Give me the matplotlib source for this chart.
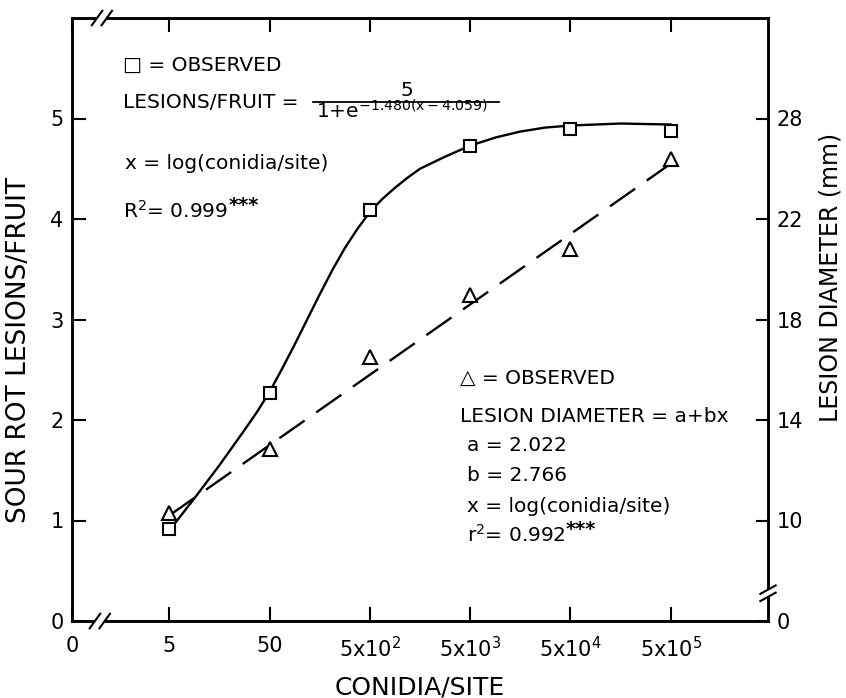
import matplotlib.pyplot as plt

# x positions are decade steps: 0 -> 5 conidia/site, 1 -> 50, ... 5 -> 5x10^5
dose_labels = ["0", "5", "50", "5x10$^2$", "5x10$^3$", "5x10$^4$", "5x10$^5$"]
dose = [0, 1, 2, 3, 4, 5]
x_left = -0.97
x_right = 5.97

# squares: sour rot lesions per fruit
lesions_obs = [0.92, 2.27, 4.09, 4.73, 4.90, 4.88]
# fitted curve
curve_x = [0, 0.25, 0.5, 0.75, 0.875, 1, 1.125, 1.25, 1.375, 1.5, 1.625, 1.75, 1.875,
           2, 2.125, 2.25, 2.375, 2.5, 2.75, 3, 3.25, 3.5, 3.75, 4, 4.5, 5]
curve_y = [0.90, 1.22, 1.55, 1.90, 2.08, 2.28, 2.51, 2.75, 3.00, 3.25, 3.49, 3.71, 3.90,
           4.07, 4.20, 4.31, 4.41, 4.50, 4.62, 4.73, 4.81, 4.87, 4.91, 4.93, 4.95, 4.94]

# triangles: lesion diameter (mm)
diam_obs = [10.3, 12.85, 16.5, 18.97, 20.8, 24.4]
line_x = [0, 5]
line_y = [10.2, 24.2]

left_ticks = [0, 1, 2, 3, 4, 5]
right_ticks = [6, 10, 14, 18, 22, 26]
right_labels = ["0", "10", "14", "18", "22", "28"]

fig = plt.figure(figsize=(8.46, 6.98), dpi=100)
W, H = 846, 698
L, R, T, B = 72, 768, 18, 621
ax = fig.add_axes([L / W, (H - B) / H, (R - L) / W, (B - T) / H])
ax2 = ax.twinx()

ax.plot(curve_x, curve_y, color="black", lw=1.7, zorder=2)
ax.plot(dose, lesions_obs, "s", ms=8.8, mfc="white", mec="black", mew=1.5, zorder=3)

ax2.plot(line_x, line_y, color="black", lw=1.7, linestyle=(0, (13, 6)), zorder=2)
ax2.plot(dose, diam_obs, "^", ms=9.5, mfc="white", mec="black", mew=1.5, zorder=3)

ax.set_xlim(x_left, x_right)
ax.set_ylim(0, 6)
ax2.set_ylim(6, 30)

ax.set_xticks([x_left] + dose)
ax.set_xticklabels(dose_labels, fontsize=15)
ax.set_yticks(left_ticks)
ax.set_yticklabels([str(v) for v in left_ticks], fontsize=15)
ax2.set_yticks(right_ticks)
ax2.set_yticklabels(right_labels, fontsize=15)

ax.tick_params(axis="x", direction="in", length=10, width=1.5, top=True, pad=11)
ax.tick_params(axis="y", direction="in", length=10, width=1.5, pad=6)
ax2.tick_params(axis="y", direction="in", length=9, width=1.5, pad=6)
for a in (ax, ax2):
    for s in a.spines.values():
        s.set_linewidth(1.8)

ax.set_ylabel("SOUR ROT LESIONS/FRUIT", fontsize=19)
ax.yaxis.set_label_coords(-0.057, 0.45)
ax2.set_ylabel("LESION DIAMETER (mm)", fontsize=17)
ax2.yaxis.set_label_coords(1.073, 0.57)
ax.set_xlabel("CONIDIA/SITE", fontsize=18)
ax.xaxis.set_label_coords(0.5, -0.09)

# broken axis marks
def hbreak(a, xc, y):
    dx, dy, sep = 0.0075, 0.012, 0.007
    a.plot([xc - sep, xc + sep], [y, y], color="white", lw=4, transform=a.transAxes,
           clip_on=False, zorder=10, solid_capstyle="butt")
    for x0 in (xc - sep, xc + sep):
        a.plot([x0 - dx, x0 + dx], [y - dy, y + dy], color="black", lw=1.5,
               transform=a.transAxes, clip_on=False, zorder=11)

def vbreak(a, x, yc):
    dx, dy, sep = 0.011, 0.007, 0.006
    a.plot([x, x], [yc - sep, yc + sep], color="white", lw=4, transform=a.transAxes,
           clip_on=False, zorder=10, solid_capstyle="butt")
    for y0 in (yc - sep, yc + sep):
        a.plot([x - dx, x + dx], [y0 - dy, y0 + dy], color="black", lw=1.5,
               transform=a.transAxes, clip_on=False, zorder=11)

hbreak(ax2, 0.040, 0.0)
hbreak(ax2, 0.043, 1.0)
vbreak(ax2, 1.0, 0.046)

def stars(txt):
    ax.annotate("***", xy=(1.0, 0.3), xycoords=txt, fontsize=14,
                ha="left", va="bottom", fontweight="bold")

# upper-left legend and equation
fs = 14.5
ax.text(-0.46, 5.47, "\u25a1 = OBSERVED", fontsize=fs, va="baseline")
ax.text(-0.46, 5.10, "LESIONS/FRUIT =", fontsize=fs, va="baseline")
ax.plot([1.43, 3.29], [5.16, 5.16], color="black", lw=1.3)
ax.text(2.37, 5.22, "5", fontsize=fs, ha="center", va="baseline")
ax.text(1.46, 5.0, "1+e$^{\\mathregular{-1.480(x-4.059)}}$", fontsize=fs, va="baseline")
ax.text(-0.44, 4.50, "x = log(conidia/site)", fontsize=fs, va="baseline")
r2 = ax.text(-0.46, 4.01, "R$^2$= 0.999", fontsize=fs, va="baseline")
stars(r2)

# lower-right legend and equation
ax.text(2.90, 2.36, "\u25b3 = OBSERVED", fontsize=fs, va="baseline")
ax.text(2.90, 1.98, "LESION DIAMETER = a+bx", fontsize=fs, va="baseline")
ax.text(2.97, 1.69, "a = 2.022", fontsize=fs, va="baseline")
ax.text(2.97, 1.39, "b = 2.766", fontsize=fs, va="baseline")
ax.text(2.97, 1.08, "x = log(conidia/site)", fontsize=fs, va="baseline")
rr2 = ax.text(2.97, 0.79, "r$^2$= 0.992", fontsize=fs, va="baseline")
stars(rr2)

fig.savefig("out.png", dpi=100)
